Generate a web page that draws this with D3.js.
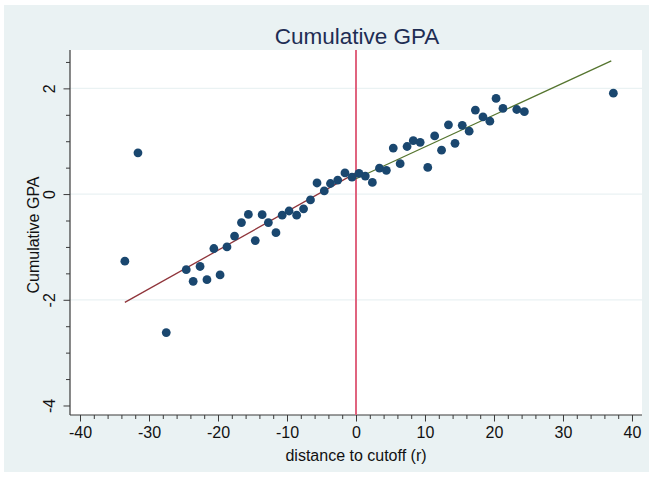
<!DOCTYPE html>
<html>
<head>
<meta charset="utf-8">
<script src="https://cdn.jsdelivr.net/npm/d3@7"></script>
<style>
  html, body { margin: 0; padding: 0; background: #ffffff; }
  svg { display: block; font-family: "Liberation Sans", Arial, Helvetica, sans-serif; }
</style>
</head>
<body>
<svg id="chart" width="651" height="477"></svg>
<script>
// Binned means of cumulative GPA by distance to the cutoff
const binXLeft  = [-33.5, -31.6, -27.5, -24.6, -23.6, -22.6, -21.6, -20.6, -19.7, -18.7,
                   -17.6, -16.6, -15.6, -14.6, -13.6, -12.7, -11.6, -10.7, -9.7, -8.6,
                   -7.6, -6.6, -5.65, -4.6, -3.7, -2.65, -1.6, -0.58];
const binYLeft  = [-1.27, 0.78, -2.62, -1.43, -1.65, -1.37, -1.62, -1.03, -1.53, -1.0,
                   -0.795, -0.54, -0.385, -0.88, -0.39, -0.54, -0.73, -0.40, -0.32, -0.40,
                   -0.28, -0.11, 0.21, 0.06, 0.20, 0.265, 0.40, 0.32];
const binXRight = [0.43, 1.35, 2.37, 3.4, 4.4, 5.4, 6.4, 7.4, 8.3, 9.3,
                   10.4, 11.4, 12.4, 13.4, 14.35, 15.4, 16.4, 17.3, 18.4, 19.4,
                   20.3, 21.3, 23.3, 24.4, 37.3];
const binYRight = [0.39, 0.34, 0.22, 0.49, 0.45, 0.87, 0.575, 0.90, 1.01, 0.98,
                   0.505, 1.10, 0.83, 1.31, 0.96, 1.30, 1.19, 1.59, 1.46, 1.38,
                   1.81, 1.62, 1.60, 1.56, 1.91];

// Linear fits on each side of the cutoff (endpoints)
const fitLeftX  = [-33.5, 0];
const fitLeftY  = [-2.05, 0.40];
const fitRightX = [0, 37.0];
const fitRightY = [0.29, 2.52];

const cutoff = 0;
const xTickValues = [-40, -30, -20, -10, 0, 10, 20, 30, 40];
const yTickValues = [-4, -2, 0, 2];
const yGridValues = [-2, 0, 2];

const titleText = "Cumulative GPA";
const xTitleText = "distance to cutoff (r)";
const yTitleText = "Cumulative GPA";

const svg = d3.select("#chart");
const plot = { left: 70, right: 642, top: 50, bottom: 415 };
const fontFam = "'Liberation Sans', Arial, Helvetica, sans-serif";

// Outer graph region
svg.append("rect").attr("x", 4).attr("y", 5).attr("width", 645).attr("height", 467)
  .attr("fill", "#eaf2f3");
// Plot region
svg.append("rect").attr("x", plot.left).attr("y", plot.top)
  .attr("width", plot.right - plot.left).attr("height", plot.bottom - plot.top)
  .attr("fill", "#ffffff");

const x = d3.scaleLinear().domain([-41.45, 41.45]).range([plot.left, plot.right]);
const y = d3.scaleLinear().domain([-4.18, 2.726]).range([plot.bottom, plot.top]);

// Gridlines
svg.append("g").selectAll("line").data(yGridValues).join("line")
  .attr("x1", plot.left).attr("x2", plot.right)
  .attr("y1", d => y(d)).attr("y2", d => y(d))
  .attr("stroke", "#eaf2f3").attr("stroke-width", 1.2);

// Minor ticks
const xMinor = d3.range(-40, 40.01, 2).filter(v => v % 10 !== 0);
const yMinor = d3.range(-4, 2.51, 0.5).filter(v => Math.abs(v % 2) > 1e-9);

const plainFormat = d => String(d);   // ASCII hyphen for negatives

const xAxis = svg.append("g").attr("transform", `translate(0,${plot.bottom})`)
  .call(d3.axisBottom(x).tickValues(xTickValues).tickSizeOuter(0).tickSize(6.5).tickPadding(5)
        .tickFormat(plainFormat));
svg.append("g").attr("transform", `translate(0,${plot.bottom})`)
  .call(d3.axisBottom(x).tickValues(xMinor).tickSizeOuter(0).tickSize(4).tickFormat(""))
  .call(g => g.select(".domain").remove());

const yAxis = svg.append("g").attr("transform", `translate(${plot.left},0)`)
  .call(d3.axisLeft(y).tickValues(yTickValues).tickSizeOuter(0).tickSize(6.5).tickFormat(plainFormat));
svg.append("g").attr("transform", `translate(${plot.left},0)`)
  .call(d3.axisLeft(y).tickValues(yMinor).tickSizeOuter(0).tickSize(4).tickFormat(""))
  .call(g => g.select(".domain").remove());

// Axis styling
svg.selectAll(".domain").attr("stroke", "#3a3a3a").attr("stroke-width", 1.2);
xAxis.select(".domain").attr("d", `M${plot.left},0H${plot.right}`);
yAxis.select(".domain").attr("d", `M0,${plot.top}V${plot.bottom}`);
svg.selectAll(".tick line").attr("stroke", "#3a3a3a").attr("stroke-width", 1);
xAxis.selectAll(".tick text").attr("font-size", 16).attr("fill", "#111")
  .attr("font-family", fontFam);
yAxis.selectAll(".tick text")
  .attr("font-size", 16).attr("fill", "#111")
  .attr("font-family", fontFam)
  .attr("text-anchor", "middle")
  .attr("x", 0).attr("y", 0).attr("dy", 0)
  .attr("transform", "translate(-15,0) rotate(-90)");

// Cutoff line
svg.append("line")
  .attr("x1", x(cutoff)).attr("x2", x(cutoff))
  .attr("y1", plot.top).attr("y2", plot.bottom)
  .attr("stroke", "#e0647f").attr("stroke-width", 2);

// Fit lines
const line = d3.line().x(d => x(d[0])).y(d => y(d[1]));
svg.append("path").datum(d3.zip(fitLeftX, fitLeftY)).attr("d", line)
  .attr("fill", "none").attr("stroke", "#90353b").attr("stroke-width", 1.3);
svg.append("path").datum(d3.zip(fitRightX, fitRightY)).attr("d", line)
  .attr("fill", "none").attr("stroke", "#55752f").attr("stroke-width", 1.3);

// Binned points
const pts = d3.zip(binXLeft, binYLeft).concat(d3.zip(binXRight, binYRight));
svg.append("g").selectAll("circle").data(pts).join("circle")
  .attr("cx", d => x(d[0])).attr("cy", d => y(d[1])).attr("r", 4.4)
  .attr("fill", "#1a476f");

// Titles
svg.append("text").attr("x", (plot.left + plot.right) / 2 + 1).attr("y", 44)
  .attr("text-anchor", "middle").attr("font-size", 22.5).attr("fill", "#1e2d53")
  .text(titleText);
svg.append("text").attr("x", (plot.left + plot.right) / 2).attr("y", 461)
  .attr("text-anchor", "middle").attr("font-size", 16).attr("fill", "#111")
  .text(xTitleText);
svg.append("text").attr("transform", `translate(39,235) rotate(-90)`)
  .attr("text-anchor", "middle").attr("font-size", 16).attr("fill", "#111")
  .text(yTitleText);
</script>
</body>
</html>
